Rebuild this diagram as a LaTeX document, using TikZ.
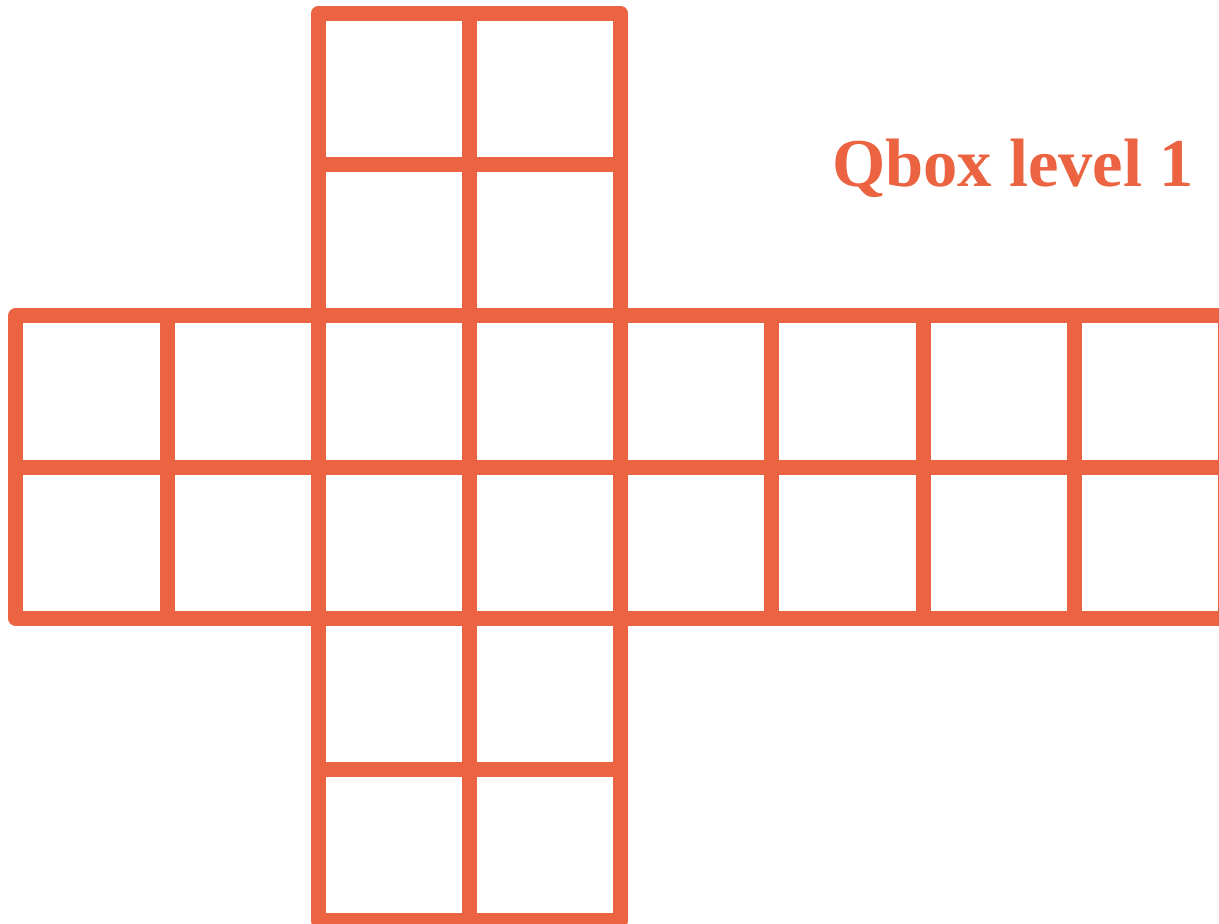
\documentclass[tikz,border=0pt]{standalone}
\usepackage{fontspec}
\setmainfont{Liberation Serif}
\definecolor{qorange}{RGB}{235,99,64}
\begin{document}
\begin{tikzpicture}[x=1pt,y=-1pt,
  cell/.style={draw=qorange, line width=15pt, line join=round, rectangle,
    minimum width=151.2pt, minimum height=151.25pt, inner sep=0pt, outer sep=0pt},
  title/.style={text=qorange, font=\bfseries\fontsize{68.5}{70}\selectfont,
    anchor=base west, inner sep=0pt}]
\useasboundingbox (0,0) rectangle (1219,924);
\clip (0,0) rectangle (1219,924);
% middle band: 8 columns x 2 rows
\foreach \i in {0,...,7}{
  \foreach \j in {2,3}{
    \node[cell] (c-\i-\j) at ({15.8+151.2*(\i+0.5)},{13.3+151.25*(\j+0.5)}) {};
  }
}
% vertical arm: columns 2-3, rows 0,1,4,5
\foreach \i in {2,3}{
  \foreach \j in {0,1,4,5}{
    \node[cell] (c-\i-\j) at ({15.8+151.2*(\i+0.5)},{13.3+151.25*(\j+0.5)}) {};
  }
}
\node[title] (label) at (832,186) {Qbox level 1};
\end{tikzpicture}
\end{document}
